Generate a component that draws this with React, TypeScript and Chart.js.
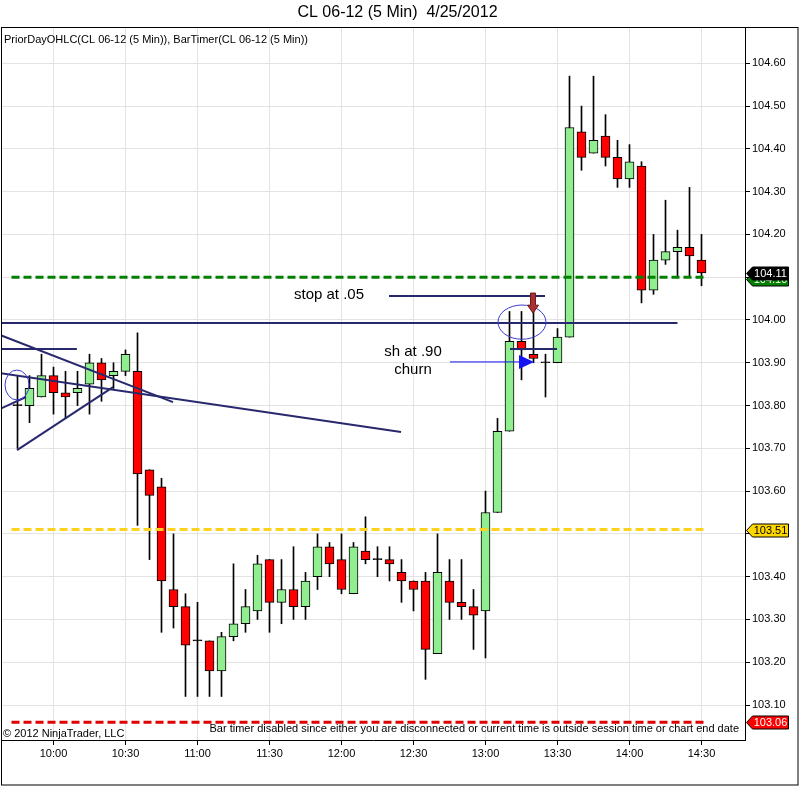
import React, { useEffect, useRef } from 'react';
import { Chart, registerables, Plugin } from 'chart.js';

Chart.register(...registerables);

// ============================================
// DATA  (bar 0 = 9:45, one bar per 5 minutes)
// ============================================
const timeTicks = ['10:00', '10:30', '11:00', '11:30', '12:00', '12:30', '13:00', '13:30', '14:00', '14:30'];
const FIRST_TICK_BAR = 3;
const BARS_PER_TICK = 6;

const priceTicks = [103.1, 103.2, 103.3, 103.4, 103.5, 103.6, 103.7, 103.8, 103.9, 104.0, 104.1, 104.2, 104.3, 104.4, 104.5, 104.6];

const opens = [
  103.80, 103.80, 103.82, 103.87, 103.83, 103.83, 103.85, 103.90, 103.87, 103.88,
  103.88, 103.65, 103.61, 103.37, 103.33, 103.25, 103.25, 103.18, 103.26, 103.29,
  103.32, 103.44, 103.34, 103.37, 103.33, 103.40, 103.47, 103.44, 103.36, 103.46,
  103.44, 103.44, 103.41, 103.39, 103.39, 103.22, 103.39, 103.34, 103.33, 103.32,
  103.55, 103.74, 103.95, 103.92, 103.90, 103.90, 103.96, 104.44, 104.39, 104.43,
  104.38, 104.33, 104.36, 104.07, 104.14, 104.16, 104.17, 104.14,
];
const highs = [
  103.87, 103.87, 103.92, 103.89, 103.88, 103.88, 103.92, 103.91, 103.90, 103.93,
  103.97, 103.65, 103.63, 103.50, 103.36, 103.34, 103.25, 103.27, 103.43, 103.37,
  103.45, 103.44, 103.44, 103.47, 103.41, 103.50, 103.48, 103.50, 103.48, 103.54,
  103.47, 103.47, 103.44, 103.39, 103.41, 103.50, 103.44, 103.44, 103.37, 103.60,
  103.77, 104.02, 104.02, 104.02, 103.92, 103.98, 104.57, 104.50, 104.57, 104.48,
  104.42, 104.41, 104.37, 104.20, 104.28, 104.21, 104.31, 104.20,
];
const lows = [
  103.70, 103.76, 103.82, 103.78, 103.77, 103.80, 103.78, 103.81, 103.84, 103.87,
  103.52, 103.44, 103.27, 103.28, 103.12, 103.12, 103.12, 103.12, 103.25, 103.27,
  103.30, 103.27, 103.29, 103.30, 103.30, 103.37, 103.40, 103.36, 103.36, 103.43,
  103.40, 103.39, 103.34, 103.32, 103.16, 103.22, 103.30, 103.30, 103.23, 103.21,
  103.55, 103.74, 103.86, 103.90, 103.82, 103.90, 103.96, 104.35, 104.39, 104.36,
  104.31, 104.31, 104.04, 104.06, 104.13, 104.10, 104.10, 104.08,
];
const closes = [
  103.80, 103.84, 103.87, 103.83, 103.82, 103.84, 103.90, 103.86, 103.88, 103.92,
  103.64, 103.59, 103.39, 103.33, 103.24, 103.25, 103.18, 103.26, 103.29, 103.33,
  103.43, 103.34, 103.37, 103.33, 103.39, 103.47, 103.43, 103.37, 103.47, 103.44,
  103.44, 103.43, 103.39, 103.37, 103.23, 103.41, 103.34, 103.33, 103.31, 103.55,
  103.74, 103.95, 103.93, 103.91, 103.90, 103.96, 104.45, 104.38, 104.42, 104.38,
  104.33, 104.37, 104.07, 104.14, 104.16, 104.17, 104.15, 104.11,
];

// prior day levels (PriorDayOHLC)
const priorHigh = 104.10;
const priorClose = 103.51;
const priorLow = 103.06;

// hand-drawn trend lines: [bar1, price1, bar2, price2]
const trendLines = [
  [-1.4, 103.993, 55.0, 103.993],
  [-1.4, 103.932, 4.95, 103.932],
  [-1.46, 103.965, 12.96, 103.808],
  [-1.46, 103.876, 31.96, 103.738],
  [-0.04, 103.696, 7.96, 103.843],
  [-1.46, 103.792, 0.71, 103.820],
  [30.96, 104.056, 43.96, 104.056],
  [41.04, 103.932, 44.96, 103.932],
];
// blue arrow: [bar from, bar to, price]
const blueArrow = [36.04, 43.04, 103.902];
// red arrow: [bar, price from, price to]
const redArrow = [42.96, 104.063, 104.016];
// ellipses: [bar, price, bar radius, price radius]
const ellipses = [
  [42.04, 103.995, 2.0, 0.04],
  [-0.04, 103.848, 1.0, 0.035],
];
const notes = [
  { text: 'stop at .05', bar: 25.96, price: 104.058 },
  { text: 'sh at .90', bar: 32.96, price: 103.925 },
  { text: 'churn', bar: 32.96, price: 103.883 },
];

// ============================================
// STYLE
// ============================================
const FONT = '"Liberation Sans", Arial, sans-serif';
const UP = '#90ee90';
const DOWN = '#ff0000';
const NAVY = '#28286e';

Chart.defaults.font.family = FONT;

const barIndex = opens.map((_, i) => i);

const priceBoxes = [
  { value: priorHigh, fill: '#008000', text: '#ffffff', dy: 2 },
  { value: closes[closes.length - 1], fill: '#000000', text: '#ffffff', dy: 0 },
  { value: priorClose, fill: '#ffd700', text: '#000000', dy: 0 },
  { value: priorLow, fill: '#ff0000', text: '#ffffff', dy: 0 },
];

const overlayPlugin: Plugin<'bar'> = {
  id: 'overlay',
  afterDraw(chart) {
    const { ctx, chartArea: ca } = chart;
    const x = chart.scales.x;
    const y = chart.scales.y;

    // drawings inside the plot area
    ctx.save();
    ctx.beginPath();
    ctx.rect(ca.left, ca.top, ca.right - ca.left, ca.bottom - ca.top);
    ctx.clip();

    ctx.strokeStyle = '#3a3ad0';
    ctx.lineWidth = 1;
    ellipses.forEach(([b, p, rb, rp]) => {
      const cx = x.getPixelForValue(b);
      const cy = y.getPixelForValue(p);
      const rx = Math.abs(x.getPixelForValue(b + rb) - cx);
      const ry = Math.abs(y.getPixelForValue(p + rp) - cy);
      ctx.beginPath();
      ctx.ellipse(cx, cy, rx, ry, 0, 0, Math.PI * 2);
      ctx.stroke();
    });

    // blue arrow head
    const tx = x.getPixelForValue(blueArrow[1]);
    const ty = y.getPixelForValue(blueArrow[2]);
    ctx.fillStyle = '#1414f0';
    ctx.beginPath();
    ctx.moveTo(tx, ty);
    ctx.lineTo(tx - 15, ty - 7);
    ctx.lineTo(tx - 15, ty + 7);
    ctx.closePath();
    ctx.fill();

    // red down arrow
    const ax = x.getPixelForValue(redArrow[0]);
    const top = y.getPixelForValue(redArrow[1]);
    const tip = y.getPixelForValue(redArrow[2]);
    ctx.fillStyle = '#a83030';
    ctx.strokeStyle = '#6b1a1a';
    ctx.beginPath();
    ctx.moveTo(ax - 2.5, top);
    ctx.lineTo(ax + 2.5, top);
    ctx.lineTo(ax + 2.5, tip - 8);
    ctx.lineTo(ax + 5.5, tip - 8);
    ctx.lineTo(ax, tip);
    ctx.lineTo(ax - 5.5, tip - 8);
    ctx.lineTo(ax - 2.5, tip - 8);
    ctx.closePath();
    ctx.fill();
    ctx.stroke();

    ctx.fillStyle = '#000';
    ctx.font = `15px ${FONT}`;
    ctx.textAlign = 'center';
    ctx.textBaseline = 'middle';
    notes.forEach((n) => ctx.fillText(n.text, x.getPixelForValue(n.bar), y.getPixelForValue(n.price)));
    ctx.restore();

    // price markers on the right axis
    ctx.save();
    ctx.font = `11px ${FONT}`;
    ctx.textAlign = 'center';
    ctx.textBaseline = 'middle';
    priceBoxes.forEach((b) => {
      const cy = Math.round(y.getPixelForValue(b.value)) + 0.5 + b.dy;
      const l = ca.right + 1.5;
      ctx.beginPath();
      ctx.moveTo(l, cy);
      ctx.lineTo(l + 6, cy - 6.5);
      ctx.lineTo(l + 42, cy - 6.5);
      ctx.lineTo(l + 42, cy + 6.5);
      ctx.lineTo(l + 6, cy + 6.5);
      ctx.closePath();
      ctx.fillStyle = b.fill;
      ctx.fill();
      ctx.strokeStyle = '#000';
      ctx.lineWidth = 1;
      ctx.stroke();
      ctx.fillStyle = b.text;
      ctx.fillText(b.value.toFixed(2), l + 24, cy + 0.5);
    });
    ctx.restore();

    // frame and texts
    ctx.save();
    ctx.strokeStyle = '#000';
    ctx.lineWidth = 1;
    ctx.strokeRect(1.5, ca.top + 0.5, chart.width - 2.5, chart.height - ca.top - 1.5);
    ctx.fillStyle = '#000';
    ctx.textBaseline = 'middle';
    ctx.font = `16px ${FONT}`;
    ctx.textAlign = 'center';
    ctx.fillText('CL 06-12 (5 Min)  4/25/2012', 397.5, 13);
    ctx.font = `11px ${FONT}`;
    ctx.textAlign = 'left';
    ctx.fillText('PriorDayOHLC(CL 06-12 (5 Min)), BarTimer(CL 06-12 (5 Min))', 4, 40);
    ctx.fillText('© 2012 NinjaTrader, LLC', 3, ca.bottom - 6);
    ctx.textAlign = 'right';
    ctx.fillText(
      'Bar timer disabled since either you are disconnected or current time is outside session time or chart end date',
      ca.right - 6,
      ca.bottom - 11,
    );
    ctx.restore();
  },
};

const lineSet = (points: number[][], color: string, width: number, order: number, dash: number[] = []) => ({
  type: 'line' as const,
  data: points.map(([px, py]) => ({ x: px, y: py })),
  borderColor: color,
  borderWidth: width,
  borderDash: dash,
  pointRadius: 0,
  tension: 0,
  order,
});

// ============================================
// CHART COMPONENT
// ============================================
const CandleChart: React.FC = () => {
  const canvasRef = useRef<HTMLCanvasElement>(null);

  useEffect(() => {
    if (!canvasRef.current) return;

    const levelFrom = -0.5;
    const levelTo = barIndex.length - 0.5;

    const chart = new Chart(canvasRef.current, {
      type: 'bar',
      data: {
        datasets: [
          {
            type: 'bar',
            data: barIndex.map((i) => ({ x: i, y: [lows[i], highs[i]] })) as any,
            backgroundColor: '#000',
            barThickness: 1,
            grouped: false,
            order: 4,
          },
          {
            type: 'bar',
            data: barIndex.map((i) => ({ x: i, y: [opens[i], closes[i]] })) as any,
            backgroundColor: barIndex.map((i) =>
              closes[i] > opens[i] ? UP : closes[i] < opens[i] ? DOWN : '#000',
            ),
            borderColor: '#000',
            borderWidth: 1,
            borderSkipped: false,
            barThickness: 9,
            minBarLength: 1,
            grouped: false,
            order: 3,
          },
          lineSet([[levelFrom, priorHigh], [levelTo, priorHigh]], '#008000', 3, 2, [8, 4]),
          lineSet([[levelFrom, priorClose], [levelTo, priorClose]], '#ffd21e', 3, 2, [8, 4]),
          lineSet([[levelFrom, priorLow], [levelTo, priorLow]], '#e00000', 3, 2, [8, 4]),
          ...trendLines.map(([x1, y1, x2, y2]) => lineSet([[x1, y1], [x2, y2]], NAVY, 2, 1)),
          lineSet([[blueArrow[0], blueArrow[2]], [blueArrow[1] - 1, blueArrow[2]]], '#1414f0', 1, 1),
        ] as any,
      },
      options: {
        responsive: false,
        animation: false,
        events: [],
        layout: { padding: { top: 27, left: 1, right: 1, bottom: 1 } },
        plugins: {
          legend: { display: false },
          tooltip: { enabled: false },
          title: { display: false },
        },
        scales: {
          x: {
            type: 'linear',
            min: -16.5 / 12,
            max: -16.5 / 12 + 62,
            offset: false,
            afterBuildTicks: (scale) => {
              scale.ticks = timeTicks.map((_, k) => ({ value: FIRST_TICK_BAR + k * BARS_PER_TICK }));
            },
            afterFit: (scale) => {
              scale.height = 45;
            },
            ticks: {
              callback: (_v, i) => timeTicks[i],
              color: '#000',
              font: { size: 11 },
              maxRotation: 0,
              autoSkip: false,
              padding: 2,
            },
            grid: { color: '#e3e3e3', offset: false, tickColor: '#000', tickLength: 5 },
            border: { color: '#000', width: 1 },
          },
          y: {
            type: 'linear',
            position: 'right',
            min: 104 - 420 / 427.8,
            max: 104 + 293 / 427.8,
            afterBuildTicks: (scale) => {
              scale.ticks = priceTicks.map((value) => ({ value }));
            },
            afterFit: (scale) => {
              scale.width = 53;
            },
            ticks: {
              callback: (v) => Number(v).toFixed(2),
              color: '#000',
              font: { size: 11 },
              padding: 2,
            },
            grid: { color: '#e3e3e3', tickColor: '#000', tickLength: 5 },
            border: { color: '#000', width: 1 },
          },
        },
      },
      plugins: [overlayPlugin],
    });

    return () => chart.destroy();
  }, []);

  return <canvas ref={canvasRef} width={799} height={786} style={{ width: 799, height: 786, display: 'block' }} />;
};

// ============================================
// APP
// ============================================
const App: React.FC = () => (
  <div style={{ position: 'fixed', left: 0, top: 0, width: 799, height: 786, background: '#fff' }}>
    <CandleChart />
  </div>
);

export default App;
